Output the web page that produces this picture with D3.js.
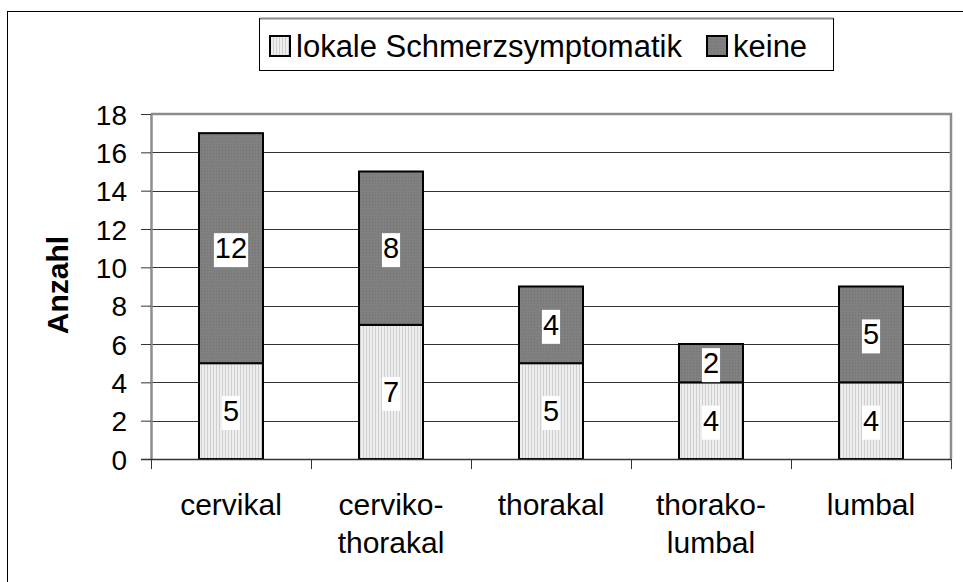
<!DOCTYPE html>
<html>
<head>
<meta charset="utf-8">
<script src="https://cdn.jsdelivr.net/npm/d3@7"></script>
<style>
  body { margin: 0; background: #fff; }
  text { font-family: "Liberation Sans", Arial, sans-serif; }
</style>
</head>
<body>
<script>
// Data
const categories = [["cervikal"], ["cerviko-", "thorakal"], ["thorakal"], ["thorako-", "lumbal"], ["lumbal"]];
const catKeys = ["cervikal", "cerviko-thorakal", "thorakal", "thorako-lumbal", "lumbal"];
const lokale = [5, 7, 5, 4, 4];
const keine = [12, 8, 4, 2, 5];
const seriesNames = ["lokale Schmerzsymptomatik", "keine"];
const yTicks = [0, 2, 4, 6, 8, 10, 12, 14, 16, 18];

const W = 963, H = 582;
const plot = {left: 151, right: 951, top: 114, bottom: 459};

const svg = d3.select("body").append("svg")
    .attr("width", W)
    .attr("height", H);

// patterns for the two series
const defs = svg.append("defs");
const pLight = defs.append("pattern")
    .attr("id", "pLight").attr("patternUnits", "userSpaceOnUse")
    .attr("width", 3).attr("height", 3);
pLight.append("rect").attr("width", 3).attr("height", 3).attr("fill", "#eeeeee");
pLight.append("rect").attr("width", 1).attr("height", 3).attr("fill", "#cfcfcf");

const pDark = defs.append("pattern")
    .attr("id", "pDark").attr("patternUnits", "userSpaceOnUse")
    .attr("width", 3).attr("height", 3);
pDark.append("rect").attr("width", 3).attr("height", 3).attr("fill", "#808080");
pDark.append("rect").attr("width", 1).attr("height", 1).attr("fill", "#727272");

const fills = ["url(#pLight)", "url(#pDark)"];

// outer frame
svg.append("rect")
    .attr("x", 7.5).attr("y", 11.5)
    .attr("width", W + 10).attr("height", H + 10)
    .attr("fill", "none").attr("stroke", "#000").attr("stroke-width", 1);

// Scales
const x = d3.scaleBand()
    .domain(catKeys)
    .range([plot.left, plot.right])
    .paddingInner(0.6)
    .paddingOuter(0.3);

const y = d3.scaleLinear()
    .domain([0, 18])
    .range([plot.bottom, plot.top]);

// gridlines
svg.append("g")
    .selectAll("line")
    .data(yTicks.filter(d => d > 0 && d < 18))
    .join("line")
    .attr("x1", plot.left).attr("x2", plot.right)
    .attr("y1", d => Math.round(y(d)) + 0.5).attr("y2", d => Math.round(y(d)) + 0.5)
    .attr("stroke", "#333").attr("stroke-width", 1);

// plot area top & right border
svg.append("path")
    .attr("d", `M${plot.left},${plot.top}H${plot.right}V${plot.bottom}`)
    .attr("fill", "none").attr("stroke", "#8c8c8c").attr("stroke-width", 2.5);

// stacked data
const stackData = catKeys.map((k, i) => ({key: k, lokale: lokale[i], keine: keine[i]}));
const stack = d3.stack().keys(["lokale", "keine"])(stackData);

const barG = svg.append("g");
stack.forEach((s, si) => {
    barG.append("g")
        .selectAll("rect")
        .data(s)
        .join("rect")
        .attr("x", d => x(d.data.key))
        .attr("y", d => y(d[1]))
        .attr("width", x.bandwidth())
        .attr("height", d => y(d[0]) - y(d[1]))
        .attr("fill", fills[si])
        .attr("stroke", "#000")
        .attr("stroke-width", 2);
});

// value labels with white boxes
stack.forEach((s) => {
    s.forEach(d => {
        const cx = x(d.data.key) + x.bandwidth() / 2;
        const cy = (y(d[0]) + y(d[1])) / 2;
        const v = d[1] - d[0];
        const g = svg.append("g");
        const t = g.append("text")
            .attr("x", cx).attr("y", cy + 10)
            .attr("text-anchor", "middle")
            .attr("font-size", 29)
            .text(v);
        const bb = t.node().getBBox();
        g.insert("rect", "text")
            .attr("x", bb.x - 1).attr("y", bb.y + 1)
            .attr("width", bb.width + 2).attr("height", bb.height + 2)
            .attr("fill", "#fff");
    });
});

// y axis
const yAxis = svg.append("g")
    .attr("transform", `translate(${plot.left},0)`)
    .call(d3.axisLeft(y).tickValues(yTicks).tickSize(10).tickSizeOuter(0));
yAxis.select(".domain").attr("stroke", "#8c8c8c").attr("stroke-width", 2.5);
yAxis.selectAll(".tick line").attr("stroke", "#333");
yAxis.selectAll(".tick text")
    .attr("font-size", 28)
    .attr("font-family", "Liberation Sans, Arial, sans-serif")
    .attr("fill", "#000")
    .attr("x", -24)
    .attr("dy", "0.36em");

// x axis
const tickXs = d3.range(catKeys.length + 1).map(i => plot.left + i * x.step());
svg.append("line")
    .attr("x1", plot.left - 10).attr("x2", plot.right)
    .attr("y1", plot.bottom + 0.5).attr("y2", plot.bottom + 0.5)
    .attr("stroke", "#333").attr("stroke-width", 1.5);
svg.append("g")
    .selectAll("line")
    .data(tickXs)
    .join("line")
    .attr("x1", d => Math.round(d) + 0.5).attr("x2", d => Math.round(d) + 0.5)
    .attr("y1", plot.bottom).attr("y2", plot.bottom + 10)
    .attr("stroke", "#333");

// category labels
svg.append("g")
    .selectAll("text")
    .data(categories)
    .join("text")
    .attr("text-anchor", "middle")
    .attr("font-size", 30)
    .attr("transform", (d, i) => `translate(${x(catKeys[i]) + x.bandwidth() / 2},515)`)
    .selectAll("tspan")
    .data(d => d)
    .join("tspan")
    .attr("x", 0)
    .attr("dy", (d, j) => j === 0 ? 0 : 38)
    .text(d => d);

// y title
svg.append("text")
    .attr("transform", "translate(68,285) rotate(-90)")
    .attr("text-anchor", "middle")
    .attr("font-size", 30)
    .attr("font-weight", "bold")
    .text("Anzahl");

// legend
const lg = svg.append("g");
lg.append("rect")
    .attr("x", 259.5).attr("y", 18.5)
    .attr("width", 574).attr("height", 52)
    .attr("fill", "#fff").attr("stroke", "#000").attr("stroke-width", 1);
lg.append("line")
    .attr("x1", 260).attr("x2", 833).attr("y1", 18.5).attr("y2", 18.5)
    .attr("stroke", "#888").attr("stroke-width", 2);
const legendX = [270, 707];
seriesNames.forEach((name, i) => {
    lg.append("rect")
        .attr("x", legendX[i]).attr("y", 36)
        .attr("width", 20).attr("height", 20)
        .attr("fill", fills[i]).attr("stroke", "#000").attr("stroke-width", 2);
    lg.append("text")
        .attr("x", legendX[i] + 26).attr("y", 57)
        .attr("font-size", 31)
        .text(name);
});
</script>
</body>
</html>
